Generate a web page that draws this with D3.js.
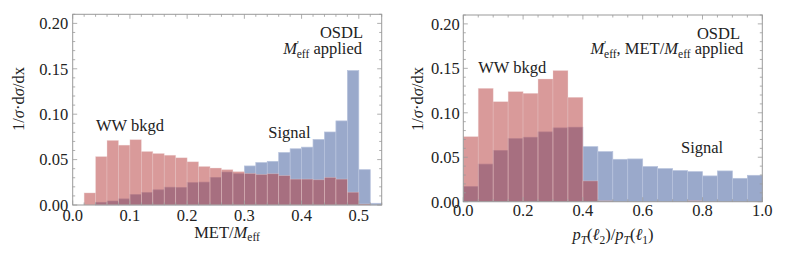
<!DOCTYPE html>
<html><head><meta charset="utf-8">
<script src="https://cdn.jsdelivr.net/npm/d3@7"></script>
<style>
body{margin:0;background:#fff}
svg{display:block}
svg text{font-family:"Liberation Serif","DejaVu Serif",serif;fill:#222}
</style>
</head><body>
<svg id="c" width="789" height="264" font-family="Liberation Serif, DejaVu Serif, serif"></svg>
<script>
// ---------- data ----------
const metBinStarts = [0.00,0.02,0.04,0.06,0.08,0.10,0.12,0.14,0.16,0.18,0.20,0.22,0.24,0.26,0.28,0.30,0.32,0.34,0.36,0.38,0.40,0.42,0.44,0.46,0.48,0.50,0.52];
const metBinWidth = 0.02;
const metWW     = [0,0.0133,0.0533,0.0711,0.0659,0.0719,0.0589,0.0567,0.0548,0.0520,0.0476,0.0424,0.0407,0.0389,0.0367,0.0348,0.0337,0.0344,0.0324,0.0285,0.0285,0.0278,0.0304,0.0285,0.0141,0.0011,0];
const metSignal = [0,0,0.0030,0.0044,0.0067,0.0115,0.0137,0.0167,0.0196,0.0193,0.0246,0.0252,0.0304,0.0363,0.0344,0.0430,0.0467,0.0481,0.0578,0.0619,0.0637,0.0722,0.0804,0.0926,0.1480,0.0389,0.0019];
const metXTicks = [0.0,0.1,0.2,0.3,0.4,0.5];

const ptBinStarts = [0.00,0.05,0.10,0.15,0.20,0.25,0.30,0.35,0.40,0.45,0.50,0.55,0.60,0.65,0.70,0.75,0.80,0.85,0.90,0.95];
const ptBinWidth = 0.05;
const ptWW     = [0.0732,0.1275,0.1125,0.1238,0.1219,0.1380,0.1475,0.1174,0.0234,0.0010,0,0,0,0,0,0.0010,0,0,0,0];
const ptSignal = [0.0170,0.0423,0.0577,0.0709,0.0725,0.0785,0.0830,0.0838,0.0619,0.0563,0.0477,0.0481,0.0395,0.0372,0.0350,0.0338,0.0290,0.0346,0.0263,0.0297];
const ptXTicks = [0.0,0.2,0.4,0.6,0.8,1.0];

const yTicks = [0.00,0.05,0.10,0.15,0.20];

// ---------- drawing ----------
const FONT = "Liberation Serif, DejaVu Serif, serif";
const svg = d3.select("#c");
const BLUE = "#9aa9cb", BLUE_EDGE = "#b7c2dc";
const RED = "rgb(179,53,53)";
const FRAME = "#9a9a9a";

function panel(cfg){
  const g = svg.append("g");
  const x = d3.scaleLinear().domain(cfg.xDomain).range([cfg.left, cfg.right]);
  const y = d3.scaleLinear().domain([0,0.21]).range([cfg.bottom, cfg.top]);
  const bins = cfg.starts.map((s,i)=>({s, sig:cfg.signal[i], ww:cfg.ww[i]}));
  g.selectAll("rect.sig").data(bins.filter(d=>d.sig>0)).join("rect")
    .attr("x", d=>x(d.s)).attr("width", d=>x(d.s+cfg.w)-x(d.s))
    .attr("y", d=>y(d.sig)).attr("height", d=>y(0)-y(d.sig))
    .attr("fill", BLUE).attr("stroke", BLUE_EDGE).attr("stroke-width",0.7);
  g.selectAll("rect.ww").data(bins.filter(d=>d.ww>0)).join("rect")
    .attr("x", d=>x(d.s)).attr("width", d=>x(d.s+cfg.w)-x(d.s))
    .attr("y", d=>y(d.ww)).attr("height", d=>y(0)-y(d.ww))
    .attr("fill", RED).attr("fill-opacity",0.5)
    .attr("stroke", "rgba(240,215,215,0.45)").attr("stroke-width",0.7);

  g.append("rect").attr("x",cfg.left).attr("y",cfg.top)
    .attr("width",cfg.right-cfg.left).attr("height",cfg.bottom-cfg.top)
    .attr("fill","none").attr("stroke",FRAME).attr("stroke-width",1);

  const tickG = g.append("g").attr("stroke",FRAME).attr("stroke-width",0.8);
  const minorX = d3.range(Math.round(cfg.xDomain[1]/cfg.xMinor)+1).map(i=>i*cfg.xMinor);
  minorX.forEach(v=>{
    const major = cfg.xTicks.some(t=>Math.abs(t-v)<1e-9);
    const L = major?4.5:2.5, px = x(v);
    tickG.append("line").attr("x1",px).attr("x2",px).attr("y1",cfg.bottom).attr("y2",cfg.bottom-L);
    tickG.append("line").attr("x1",px).attr("x2",px).attr("y1",cfg.top).attr("y2",cfg.top+L);
  });
  const minorY = d3.range(22).map(i=>i*0.01);
  minorY.forEach(v=>{
    const major = yTicks.some(t=>Math.abs(t-v)<1e-9);
    const L = major?4.5:2.5, py = y(v);
    tickG.append("line").attr("x1",cfg.left).attr("x2",cfg.left+L).attr("y1",py).attr("y2",py);
    tickG.append("line").attr("x1",cfg.right).attr("x2",cfg.right-L).attr("y1",py).attr("y2",py);
  });

  g.selectAll("text.xt").data(cfg.xTicks).join("text")
    .attr("font-family",FONT)
    .attr("x", d=>x(d)).attr("y", cfg.bottom+cfg.xLabGap)
    .attr("text-anchor","middle").attr("font-size",16.5).text(d3.format(".1f"));
  g.selectAll("text.yt").data(yTicks).join("text")
    .attr("font-family",FONT)
    .attr("x", cfg.left-cfg.yLabGap).attr("y", d=>y(d)+5.8)
    .attr("text-anchor","end").attr("font-size",16.5).text(d3.format(".2f"));

  const yt = g.append("text").attr("font-family",FONT).attr("transform",`translate(${cfg.yTitleX},${99}) rotate(-90)`)
    .attr("text-anchor","middle").attr("font-size",16.5);
  yt.append("tspan").text("1/");
  yt.append("tspan").attr("font-style","italic").text("σ");
  yt.append("tspan").text("·d");
  yt.append("tspan").attr("font-style","italic").text("σ");
  yt.append("tspan").text("/dx");
  return {g,x,y};
}

function rich(g, xPos, yPos, anchor, parts){
  const t = g.append("text").attr("font-family",FONT).attr("x",xPos).attr("y",yPos).attr("text-anchor",anchor).attr("font-size",16.5);
  parts.forEach(p=>{
    const s = t.append("tspan").text(p.t);
    if(p.i) s.attr("font-style","italic");
    if(p.fs) s.attr("font-size",p.fs);
    if(p.dy) s.attr("dy",p.dy);
    if(p.dx) s.attr("dx",p.dx);
  });
  return t;
}

const L = panel({left:72.7,right:381.7,top:14.3,bottom:205,xDomain:[0,0.54],xMinor:0.02,
  starts:metBinStarts,w:metBinWidth,ww:metWW,signal:metSignal,xTicks:metXTicks,
  xLabGap:15.5,yLabGap:4.5,yTitleX:23.5});
const R = panel({left:463.3,right:762.3,top:15,bottom:201.7,xDomain:[0,1],xMinor:0.05,
  starts:ptBinStarts,w:ptBinWidth,ww:ptWW,signal:ptSignal,xTicks:ptXTicks,
  xLabGap:14,yLabGap:3.5,yTitleX:423});

rich(L.g, 227, 237.5, "middle", [{t:"MET/"},{t:"M",i:1},{t:"eff",fs:11.5,dy:3.5}]);
rich(R.g, 613, 240, "middle", [
  {t:"p",i:1},{t:"T",i:1,fs:11.5,dy:3.5},{t:"(",dy:-3.5},{t:"ℓ",i:1},{t:"2",fs:11.5,dy:3.5},{t:")/",dy:-3.5},
  {t:"p",i:1},{t:"T",i:1,fs:11.5,dy:3.5},{t:"(",dy:-3.5},{t:"ℓ",i:1},{t:"1",fs:11.5,dy:3.5},{t:")",dy:-3.5}]);

rich(L.g, 363, 37.7, "end", [{t:"OSDL"}]);
rich(L.g, 362, 54, "end", [{t:"M",i:1},{t:"'",fs:10,dy:-6},{t:"eff",fs:11.5,dy:9.5,dx:-2},{t:" applied",dy:-3.5}]);
rich(L.g, 96, 131, "start", [{t:"WW bkgd"}]);
rich(L.g, 268.3, 137.5, "start", [{t:"Signal"}]);

rich(R.g, 740, 39.3, "end", [{t:"OSDL"}]);
rich(R.g, 743.3, 54.3, "end", [{t:"M",i:1},{t:"'",fs:10,dy:-6},{t:"eff",fs:11.5,dy:9.5,dx:-2},{t:", MET/",dy:-3.5},{t:"M",i:1},{t:"eff",fs:11.5,dy:3.5},{t:" applied",dy:-3.5}]);
rich(R.g, 478.3, 72.7, "start", [{t:"WW bkgd"}]);
rich(R.g, 681, 152.7, "start", [{t:"Signal"}]);
</script>
</body></html>
